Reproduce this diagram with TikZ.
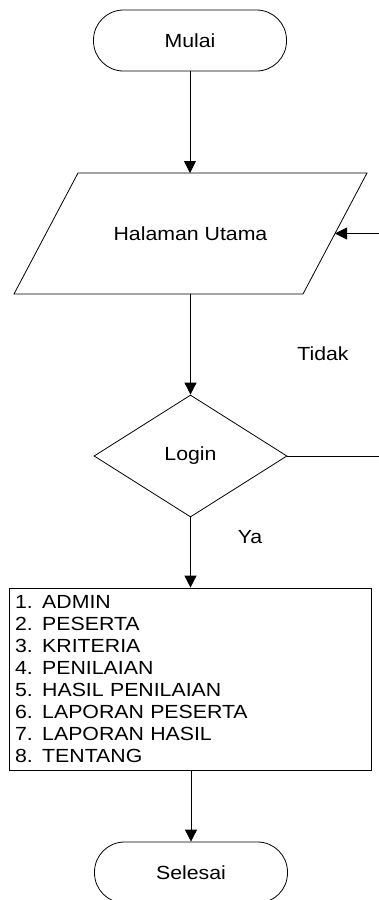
\documentclass[tikz,border=0pt]{standalone}
\usepackage{fontspec}
\setmainfont{Liberation Sans}[FakeStretch=1.12]
\usetikzlibrary{arrows.meta,shapes.geometric}

\begin{document}
\begin{tikzpicture}[x=1pt, y=-1pt, line width=0.8pt,
    every node/.style={font=\fontsize{19}{21.9}\selectfont, inner sep=0pt},
    term/.style={draw, rectangle, rounded corners=30pt, minimum width=193pt, minimum height=61pt},
    choice/.style={draw, diamond, minimum width=193pt, minimum height=122pt},
    proc/.style={draw, rectangle, minimum width=362pt, minimum height=182pt, text width=350pt, align=left},
    arr/.style={-{Triangle[length=12pt,width=12pt]}}]
    \useasboundingbox (0,0) rectangle (379,900);
    \node[term] (mulai) at (190,40.5) {Mulai};
    % halaman utama (input/output)
    \coordinate (hal-tl) at (78,173);
    \coordinate (hal-tr) at (367,173);
    \coordinate (hal-br) at (303,294);
    \coordinate (hal-bl) at (14,294);
    \coordinate (hal-r) at (335,233.5);
    \draw (hal-tl) -- (hal-tr) -- (hal-br) -- (hal-bl) -- cycle;
    \node (hal) at (190.5,233.5) {Halaman Utama};
    \node[choice] (login) at (190.5,456) {Login};
    \node[proc] (menu) at (190,679) {1. ADMIN\\2. PESERTA\\3. KRITERIA\\4. PENILAIAN\\5. HASIL PENILAIAN\\6. LAPORAN PESERTA\\7. LAPORAN HASIL\\8. TENTANG};
    \node[term] (selesai) at (191,872.5) {Selesai};
    \node (tidak) at (323,354) {Tidak};
    \node (ya) at (250,537) {Ya};
    \coordinate (balik) at (379,233.5);
    \coordinate (keluar) at (379,456);
        \draw[arr] (mulai) -- (hal-tl -| mulai);
        \draw[arr] (hal-bl -| login.north) -- (login);
        \draw[arr] (login) -- (menu.north -| login);
        \draw[arr] (menu.south -| selesai.north) -- (selesai);
        \draw[arr] (balik) -- (hal-r);
        \draw (login.east) -- (keluar);
\end{tikzpicture}
\end{document}
